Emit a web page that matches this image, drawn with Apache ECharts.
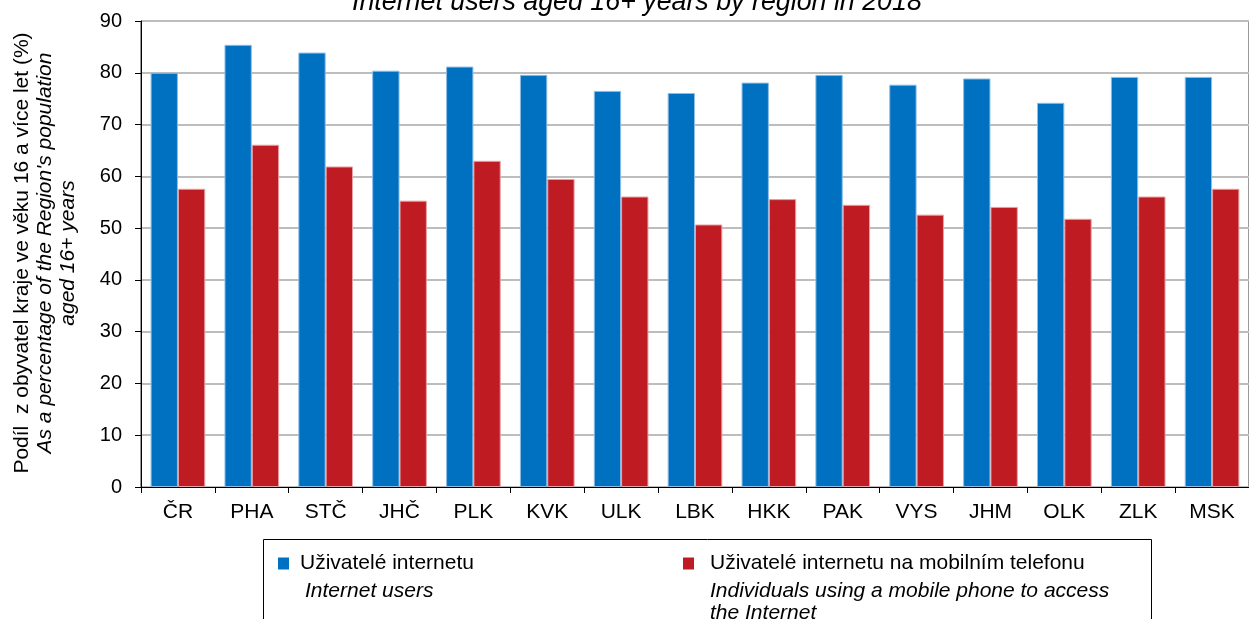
<!DOCTYPE html>
<html>
<head>
<meta charset="utf-8">
<script src="https://cdn.jsdelivr.net/npm/echarts@6/dist/echarts.min.js"></script>
<style>
  html, body { margin: 0; padding: 0; background: #fff; }
  #chart { width: 1249px; height: 619px; }
</style>
</head>
<body>
<div id="chart"></div>
<script>
// Regions of Czechia (ČR = whole country)
var regions = ['ČR', 'PHA', 'STČ', 'JHČ', 'PLK', 'KVK', 'ULK', 'LBK', 'HKK', 'PAK', 'VYS', 'JHM', 'OLK', 'ZLK', 'MSK'];

// Share of population aged 16+ (%)
var internetUsers = [80.0, 85.4, 83.9, 80.4, 81.2, 79.6, 76.5, 76.1, 78.1, 79.6, 77.7, 78.9, 74.2, 79.2, 79.2];
var mobileInternetUsers = [57.6, 66.1, 61.9, 55.3, 63.0, 59.5, 56.1, 50.7, 55.6, 54.5, 52.6, 54.1, 51.8, 56.1, 57.6];

var yTicks = { min: 0, max: 90, interval: 10 };

var seriesNames = ['Uživatelé internetu', 'Uživatelé internetu na mobilním telefonu'];
var seriesNamesEn = [['Internet users'], ['Individuals using a mobile phone to access', 'the Internet']];

var FONT = '"Liberation Sans", Arial, sans-serif';
var chart = echarts.init(document.getElementById('chart'), null, { renderer: 'canvas' });

chart.setOption({
  animation: false,
  textStyle: { fontFamily: FONT },
  title: {
    text: 'Internet users aged 16+ years by region in 2018',
    left: 347,
    top: -16,
    textStyle: { fontFamily: FONT, fontSize: 26.8, fontStyle: 'italic', fontWeight: 'normal', color: '#000' }
  },
  grid: {
    left: 141, top: 21, width: 1118, bottom: 132,
    show: true, borderColor: '#333', borderWidth: 1, backgroundColor: 'transparent'
  },
  legend: [
    {
      data: [seriesNames[0]], left: 273, top: 548, icon: 'rect', itemWidth: 11, itemHeight: 12,
      itemStyle: { borderWidth: 0 },
      textStyle: { fontFamily: FONT, fontSize: 21, color: '#000', padding: [0, 0, 0, 6] }
    },
    {
      data: [seriesNames[1]], left: 678, top: 548, icon: 'rect', itemWidth: 11, itemHeight: 12,
      itemStyle: { borderWidth: 0 },
      textStyle: { fontFamily: FONT, fontSize: 21, color: '#000', padding: [0, 0, 0, 11] }
    }
  ],
  xAxis: {
    type: 'category',
    data: regions,
    axisLine: { lineStyle: { color: '#000', width: 1 } },
    axisTick: { show: true, alignWithLabel: false, length: 6, lineStyle: { color: '#000' } },
    axisLabel: { fontFamily: FONT, fontSize: 21, color: '#000', margin: 15 }
  },
  yAxis: {
    type: 'value',
    min: yTicks.min, max: yTicks.max, interval: yTicks.interval,
    axisLine: { show: true, lineStyle: { color: '#000', width: 1 } },
    axisTick: { show: true, length: 6, lineStyle: { color: '#000' } },
    axisLabel: { fontFamily: FONT, fontSize: 20, color: '#000', margin: 19 },
    splitLine: { show: true, lineStyle: { color: '#BDBDBD', width: 2 } }
  },
  series: [
    {
      name: seriesNames[0], type: 'bar', data: internetUsers,
      barGap: '0%', barCategoryGap: '26%',
      itemStyle: { color: '#0070C0', borderColor: '#8DBDE6', borderWidth: 1 }
    },
    {
      name: seriesNames[1], type: 'bar', data: mobileInternetUsers,
      barGap: '0%', barCategoryGap: '26%',
      itemStyle: { color: '#BE1B22', borderColor: '#E8A0A4', borderWidth: 1 }
    }
  ],
  graphic: [
    // legend frame
    { type: 'rect', shape: { x: 263.5, y: 539.5, width: 888, height: 100 },
      style: { fill: 'none', stroke: '#000', lineWidth: 1 }, z: 0 },
    { type: 'text', left: 305, top: 580,
      style: { text: seriesNamesEn[0].join('\n'), font: 'italic 21px ' + FONT, fill: '#000', lineHeight: 22 } },
    { type: 'text', left: 710, top: 580,
      style: { text: seriesNamesEn[1].join('\n'), font: 'italic 21px ' + FONT, fill: '#000', lineHeight: 22 } },
    // y axis title
    { type: 'text', rotation: Math.PI / 2, x: 45, y: 253,
      style: {
        text: '{a|Podíl  z obyvatel kraje ve věku 16 a více let (%)}\n{b|As a percentage of the Region\'s population}\n{b|aged 16+ years}',
        align: 'center', verticalAlign: 'middle', fill: '#000',
        rich: {
          a: { fontFamily: FONT, fontSize: 21, lineHeight: 23, align: 'center' },
          b: { fontFamily: FONT, fontSize: 21, fontStyle: 'italic', lineHeight: 23, align: 'center' }
        }
      } }
  ]
});
</script>
</body>
</html>
